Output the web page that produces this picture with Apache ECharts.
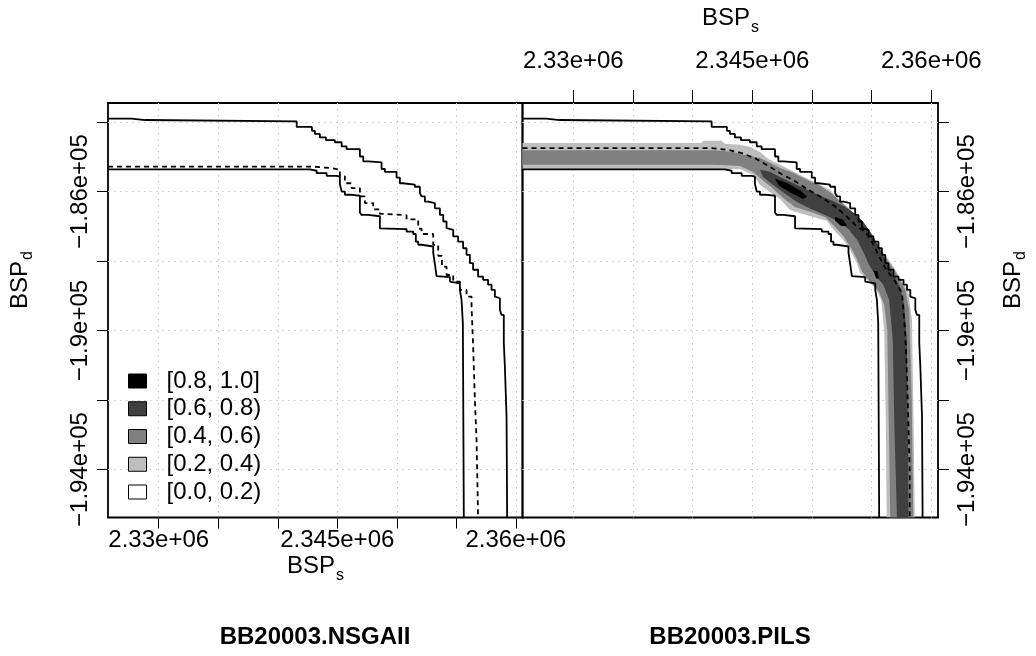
<!DOCTYPE html>
<html>
<head>
<meta charset="utf-8">
<script src="https://cdn.jsdelivr.net/npm/echarts@6/dist/echarts.min.js"></script>
<style>
  html, body { margin: 0; padding: 0; background: #fff; }
  #chart { width: 1036px; height: 656px; }
</style>
</head>
<body>
<div id="chart"></div>
<script>
const FONT = '"Liberation Sans", Arial, Helvetica, sans-serif'

// axis ranges, data units
const X_MIN = 2325740, X_MAX = 2360560
const Y_MIN = -195380, Y_MAX = -183450

const xTicks = [2330000, 2335000, 2340000, 2345000, 2350000, 2355000, 2360000]
const xLabelValues = [2330000, 2345000, 2360000]
const xLabelText = ['2.33e+06', '2.345e+06', '2.36e+06']
const yTicks = [-184000, -186000, -188000, -190000, -192000, -194000]
const yLabelValues = [-186000, -190000, -194000]
const yLabelText = ['\u22121.86e+05', '\u22121.9e+05', '\u22121.94e+05']

const levelNames = ['[0.8, 1.0]', '[0.6, 0.8)', '[0.4, 0.6)', '[0.2, 0.4)', '[0.0, 0.2)']
const levelColors = ['#000000', '#404040', '#808080', '#bebebe', '#ffffff']

// grand best attainment surface (corners, BSPs / BSPd)
const bestPts = [
  [2327730, -183900], [2328850, -183940], [2341590, -183980], [2342870, -184140], [2343120, -184250],
  [2343540, -184340], [2344050, -184440], [2344800, -184520], [2345370, -184580], [2345780, -184700],
  [2346900, -184780], [2347180, -184990], [2347600, -185130], [2348720, -185160], [2349000, -185350],
  [2349980, -185430], [2350260, -185600], [2350510, -185760], [2351520, -185800], [2351940, -185860],
  [2352080, -186040], [2352360, -186140], [2352640, -186290], [2353200, -186330], [2353620, -186480],
  [2353900, -186670], [2354180, -186860], [2354320, -187050], [2354740, -187100], [2355150, -187290],
  [2355570, -187440], [2355860, -187630], [2356140, -187820], [2356410, -188060], [2356830, -188250],
  [2357250, -188450], [2357670, -188540], [2357960, -188680], [2358240, -188830], [2358380, -189020],
  [2358660, -189070], [2358800, -189400], [2358990, -189550], [2359080, -190350], [2359220, -191040],
  [2359270, -192480]
]

// grand worst attainment surface
const worstPts = [
  [2342700, -185360], [2343270, -185400], [2344110, -185470], [2344950, -185550], [2345220, -185570],
  [2345370, -185780], [2345640, -186000], [2346060, -186090], [2346900, -186120], [2347040, -186600],
  [2347600, -186670], [2348580, -186710], [2348720, -187060], [2350820, -187080], [2351380, -187150],
  [2351600, -187220], [2351800, -187440], [2352080, -187530], [2353060, -187580], [2353200, -187760],
  [2353340, -188080], [2353480, -188430], [2354460, -188460], [2354600, -188590], [2355300, -188640],
  [2355440, -188830], [2355550, -189120], [2355630, -189780]
]

// median attainment surfaces
const medNSGAII = [
  [2342960, -185280], [2344660, -185330], [2345220, -185370], [2345640, -185560], [2346200, -185760],
  [2346900, -185900], [2347320, -186140], [2348020, -186330], [2348580, -186510], [2348860, -186640],
  [2350820, -186680], [2351800, -186800], [2352080, -187070], [2353060, -187220], [2353480, -187530],
  [2353790, -187850], [2354180, -188160], [2354740, -188400], [2355300, -188590], [2355860, -188830],
  [2356280, -189020], [2356410, -189320], [2356560, -190410], [2356700, -192000], [2356830, -193150]
]
const medPILS = [
  [2341590, -184750], [2342980, -184800], [2344110, -184890], [2345220, -185040], [2346340, -185260],
  [2347460, -185500], [2348580, -185700], [2349700, -185950], [2350820, -186170], [2351940, -186430],
  [2352780, -186670], [2353620, -186960], [2354460, -187160], [2355020, -187440], [2355570, -187820],
  [2356140, -188200], [2356980, -188590], [2357540, -188910], [2357670, -189450], [2357820, -190120],
  [2357960, -191280], [2358090, -192800], [2358190, -194010]
]

// PILS attainment regions, one outline per level
const pils02 = [
  [X_MIN, -184600], [2340750, -184600], [2340860, -184540], [2342430, -184540], [2342700, -184620],
  [2343960, -184650], [2344800, -184710], [2345640, -184860], [2346340, -185060], [2347040, -185180],
  [2348160, -185370], [2349280, -185570], [2350400, -185760], [2351520, -185950], [2352080, -186190],
  [2352920, -186430], [2353760, -186720], [2354320, -186960], [2354880, -187190], [2355720, -187620],
  [2356560, -188020], [2357400, -188480], [2358070, -188890], [2358380, -189690], [2358510, -192570],
  [2358610, Y_MIN], [2356260, Y_MIN], [2356180, -192570], [2356050, -189980], [2355800, -189120],
  [2355300, -188770], [2354630, -188540], [2354040, -188340], [2353760, -188060], [2353200, -187680],
  [2352640, -187390], [2351800, -187100], [2351240, -186840], [2350400, -186760], [2349000, -186620],
  [2348160, -186530], [2347320, -186210], [2346480, -186010], [2345640, -185800], [2345080, -185520],
  [2343960, -185350], [X_MIN, -185350]
]
const pils04 = [
  [X_MIN, -184810], [2341860, -184810], [2343380, -184860], [2344380, -184940], [2345640, -185030],
  [2346480, -185170], [2347320, -185320], [2348410, -185460], [2349590, -185660], [2350680, -185830],
  [2351600, -186040], [2352360, -186270], [2353200, -186530], [2353950, -186810], [2354630, -187100],
  [2355470, -187530], [2356310, -187960], [2357150, -188400], [2357820, -188830], [2358150, -189400],
  [2358360, -192000], [2358490, Y_MIN], [2356560, Y_MIN], [2356430, -192570], [2356310, -189980],
  [2356050, -189260], [2355630, -188890], [2354880, -188600], [2354210, -188310], [2353790, -187960],
  [2353280, -187620], [2352610, -187270], [2351860, -186990], [2351100, -186730], [2349840, -186580],
  [2348580, -186440], [2347570, -186180], [2346650, -185890], [2345810, -185660], [2345050, -185430],
  [2343960, -185260], [2341860, -185230], [X_MIN, -185230]
]
const pils06 = [
  [2345640, -185370], [2346480, -185430], [2347320, -185580], [2348410, -185750], [2349590, -185950],
  [2350680, -186120], [2351770, -186270], [2352780, -186440], [2353620, -186640], [2354290, -186870],
  [2354960, -187190], [2355550, -187560], [2356140, -187960], [2356810, -188370], [2357400, -188770],
  [2357730, -189260], [2357940, -190270], [2358030, -192570], [2358090, Y_MIN], [2357120, Y_MIN],
  [2356890, -192570], [2356770, -190270], [2356470, -189120], [2355970, -188680], [2355300, -188400],
  [2354790, -188110], [2354290, -187730], [2353790, -187390], [2353110, -187100], [2352280, -186870],
  [2351100, -186670], [2349920, -186500], [2348750, -186300], [2347740, -186060], [2346730, -185800],
  [2345890, -185580]
]
const pils08a = [
  [2346900, -185630], [2347910, -185750], [2349090, -185980], [2349590, -186150], [2349250, -186210],
  [2348250, -186040], [2347240, -185830]
]
const pils08b = [
  [2351940, -186730], [2352610, -186810], [2352950, -186990], [2352440, -186990], [2351940, -186840]
]
const pils08c = [[2355130, -188270], [2355470, -188290], [2355640, -188500], [2355380, -188500]]

// staircase from the left edge down to the bottom edge
const stair = pts => [[X_MIN, pts[0][1]], ...pts, [pts[pts.length - 1][0], Y_MIN]]

const lineSeries = (pts, gi, dashed, step) => ({
  type: 'line',
  xAxisIndex: gi,
  yAxisIndex: gi,
  data: stair(pts),
  step: step ? 'start' : false,
  showSymbol: false,
  silent: true,
  z: 5,
  lineStyle: { color: '#000', width: 1.8, type: dashed ? [5, 4] : 'solid' }
})

const polySeries = (name, color, polys, gi) => ({
  type: 'custom',
  name: name,
  xAxisIndex: gi,
  yAxisIndex: gi,
  clip: true,
  silent: true,
  z: 2,
  itemStyle: { color: color },
  data: polys.map(p => p[0]),
  renderItem: (params, api) => ({
    type: 'polygon',
    shape: { points: polys[params.dataIndex].map(p => api.coord(p)) },
    style: { fill: color }
  })
})

const xAxisBase = (gi, pos, margin) => ({
  gridIndex: gi,
  type: 'value',
  min: X_MIN,
  max: X_MAX,
  position: pos,
  axisLine: { show: false },
  axisTick: { show: true, customValues: xTicks, length: pos === 'top' ? 13 : 11, lineStyle: { color: '#000', width: 1 } },
  axisLabel: {
    show: true,
    customValues: xLabelValues,
    formatter: v => xLabelText[xLabelValues.indexOf(v)],
    margin: margin, color: '#000', fontSize: 24, fontFamily: FONT
  },
  splitLine: { show: true, lineStyle: { color: '#c8c8c8', width: 1, type: [1.5, 4.5] } }
})

const yAxisBase = (gi, pos, margin) => ({
  gridIndex: gi,
  type: 'value',
  min: Y_MIN,
  max: Y_MAX,
  position: pos,
  axisLine: { show: false },
  axisTick: { show: true, customValues: yTicks, length: 11, lineStyle: { color: '#000', width: 1 } },
  axisLabel: {
    show: true,
    customValues: yLabelValues,
    formatter: v => yLabelText[yLabelValues.indexOf(v)],
    rotate: 90, margin: margin, color: '#000', fontSize: 24, fontFamily: FONT
  },
  splitLine: { show: true, lineStyle: { color: '#c8c8c8', width: 1, type: [1.5, 4.5] } }
})

const txt = (text, x, y, opts) => Object.assign({
  type: 'text', x: x, y: y, silent: true,
  style: Object.assign({
    text: text, fill: '#000', fontSize: 24, fontFamily: FONT,
    textAlign: 'left', textVerticalAlign: 'middle'
  }, opts.style || {})
}, opts.el || {})

const option = {
  animation: false,
  backgroundColor: '#fff',
  grid: [
    { left: 108, top: 103, width: 414.5, height: 414.5, show: true, borderColor: '#000', borderWidth: 1.8,
      backgroundColor: 'transparent', containLabel: false, outerBoundsMode: 'none' },
    { left: 522.5, top: 103, width: 415.5, height: 414.5, show: true, borderColor: '#000', borderWidth: 1.8,
      backgroundColor: 'transparent', containLabel: false, outerBoundsMode: 'none' }
  ],
  xAxis: [xAxisBase(0, 'bottom', 11), xAxisBase(1, 'top', 30)],
  yAxis: [yAxisBase(0, 'left', 16), yAxisBase(1, 'right', 17)],
  legend: {
    data: levelNames,
    left: 128, top: 369,
    orient: 'vertical',
    padding: 0,
    icon: 'rect',
    itemWidth: 18, itemHeight: 14, itemGap: 3.75,
    selectedMode: false,
    itemStyle: { borderColor: '#000', borderWidth: 1 },
    textStyle: { fontSize: 24, fontFamily: FONT, color: '#000', lineHeight: 14, padding: [0, 0, 0, 15] }
  },
  graphic: [
    txt('BSP', 335, 566, { style: { textAlign: 'right' } }),
    txt('s', 336, 576, { style: { fontSize: 16 } }),
    txt('BSP', 750, 18, { style: { textAlign: 'right' } }),
    txt('s', 751, 28, { style: { fontSize: 16 } }),
    txt('BSP', 20, 309, { el: { rotation: Math.PI / 2 } }),
    txt('d', 28, 260, { el: { rotation: Math.PI / 2 }, style: { fontSize: 16 } }),
    txt('BSP', 1013, 309, { el: { rotation: Math.PI / 2 } }),
    txt('d', 1021, 260, { el: { rotation: Math.PI / 2 }, style: { fontSize: 16 } }),
    txt('BB20003.NSGAII', 315, 637, { style: { textAlign: 'center', fontWeight: 'bold' } }),
    txt('BB20003.PILS', 730, 637, { style: { textAlign: 'center', fontWeight: 'bold' } })
  ],
  series: [
    polySeries(levelNames[3], levelColors[3], [pils02], 1),
    polySeries(levelNames[2], levelColors[2], [pils04], 1),
    polySeries(levelNames[1], levelColors[1], [pils06], 1),
    polySeries(levelNames[0], levelColors[0], [pils08a, pils08b, pils08c], 1),
    polySeries(levelNames[4], levelColors[4], [], 1),
    lineSeries(bestPts, 0, false, true),
    lineSeries(worstPts, 0, false, true),
    lineSeries(medNSGAII, 0, true, true),
    lineSeries(bestPts, 1, false, true),
    lineSeries(worstPts, 1, false, true),
    lineSeries(medPILS, 1, true, false)
  ]
}

const chart = echarts.init(document.getElementById('chart'), null, { renderer: 'canvas' })
chart.setOption(option)
window.addEventListener('resize', () => chart.resize())
</script>
</body>
</html>
